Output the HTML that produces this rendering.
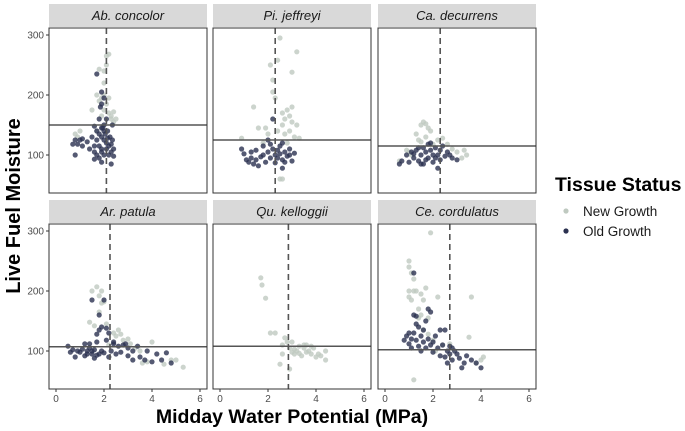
<!DOCTYPE html>
<html><head><meta charset="utf-8"><style>
body{margin:0;background:#fff}
svg{display:block;font-family:"Liberation Sans",sans-serif}
</style></head><body>
<svg id="c" width="685" height="431"></svg>
<script>
const panelNames=["Ab. concolor","Pi. jeffreyi","Ca. decurrens","Ar. patula","Qu. kelloggii","Ce. cordulatus"];
const hlineVals=[150,125,115,107,108,102];
const vlineVals=[2.1,2.3,2.3,2.25,2.85,2.7];
const xTicks=[0,2,4,6];
const yTicks=[100,200,300];
const newGrowth=[
[[0.8,135],[0.9,130],[1.0,140],[1.5,175],[1.7,140],[1.8,190],[1.9,195],[2.0,240],[2.0,200],[1.8,243],[2.1,265],[2.2,268],[2.1,250],[2.0,220],[2.2,170],[2.3,165],[2.4,172],[2.5,160],[2.1,185],[1.9,165],[2.3,160],[2.2,195],[1.7,200],[2.0,175],[2.4,155]],
[[0.9,128],[1.4,180],[1.6,145],[1.9,145],[2.0,135],[2.1,250],[2.2,205],[2.2,225],[2.3,195],[2.4,258],[2.5,295],[2.6,170],[2.6,150],[2.7,160],[2.8,175],[2.9,140],[3.0,155],[3.1,130],[3.2,150],[3.3,128],[3.0,238],[3.2,272],[2.7,135],[2.8,120],[2.4,140],[2.5,60],[2.6,60],[1.8,120],[3.0,180],[2.9,165]],
[[0.6,90],[0.9,108],[1.0,105],[1.3,135],[1.5,150],[1.6,155],[1.7,152],[1.8,145],[1.9,140],[1.5,122],[1.7,130],[1.4,125],[2.2,125],[2.4,128],[2.6,118],[3.0,105],[3.3,108],[3.4,100],[3.2,95],[1.1,100],[2.0,118],[2.8,110]],
[[1.4,148],[1.5,200],[1.6,142],[1.7,207],[1.8,192],[1.9,200],[1.8,165],[2.0,182],[2.1,145],[2.4,130],[2.5,125],[2.6,135],[2.7,128],[2.8,118],[3.0,120],[3.1,112],[3.3,105],[3.5,100],[3.6,80],[3.8,82],[4.0,115],[4.5,78],[4.8,85],[5.0,85],[5.3,73],[1.9,180],[2.2,110]],
[[1.7,222],[1.75,210],[1.9,188],[2.1,130],[2.3,130],[2.5,78],[2.6,95],[2.7,122],[2.8,115],[2.9,70],[2.9,105],[3.0,98],[3.0,115],[3.1,95],[3.2,100],[3.3,108],[3.4,92],[3.5,105],[3.6,98],[3.6,110],[3.7,100],[3.8,95],[3.9,105],[4.0,90],[4.1,95],[4.2,92],[4.4,100],[4.4,85],[3.3,96],[3.5,110],[3.8,108],[3.1,103],[2.6,110]],
[[1.0,250],[1.0,240],[1.1,230],[1.2,220],[1.0,200],[1.0,190],[1.2,200],[1.3,200],[1.5,195],[1.7,205],[1.6,185],[1.4,170],[1.5,160],[1.8,155],[2.2,190],[1.9,297],[1.1,185],[1.4,155],[1.8,128],[2.0,118],[2.4,110],[2.7,112],[3.5,123],[3.6,190],[3.8,80],[4.0,85],[4.1,90],[1.2,52],[1.6,135],[2.1,100]]
];
const oldGrowth=[
[[0.8,100],[0.7,118],[0.8,125],[0.9,118],[1.0,125],[1.1,115],[1.1,127],[1.3,122],[1.4,110],[1.5,130],[1.6,115],[1.6,105],[1.7,140],[1.7,125],[1.7,100],[1.8,135],[1.8,115],[1.8,95],[1.8,160],[1.9,145],[1.9,130],[1.9,110],[1.9,105],[1.9,185],[1.85,180],[2.0,140],[2.0,125],[2.0,100],[1.9,88],[1.9,205],[2.0,150],[2.05,135],[2.1,120],[2.1,110],[2.0,195],[2.15,140],[2.15,128],[2.2,115],[2.2,100],[2.25,130],[2.3,118],[2.3,105],[2.35,150],[2.35,125],[2.4,110],[2.4,98],[2.3,85],[1.6,93],[1.7,235],[2.1,160],[1.6,148],[1.95,145]],
[[0.9,110],[1.0,102],[1.1,92],[1.2,88],[1.3,95],[1.4,85],[1.5,92],[1.6,82],[1.7,97],[1.8,100],[1.9,88],[2.0,105],[2.1,95],[2.1,118],[2.2,110],[2.3,100],[2.3,87],[2.4,108],[2.4,95],[2.5,115],[2.5,102],[2.6,92],[2.6,120],[2.7,105],[2.8,98],[2.9,110],[3.0,90],[3.1,103],[2.0,125],[1.5,108],[1.8,115],[2.6,78],[2.2,160],[2.9,100],[1.3,105],[2.7,88]],
[[0.6,85],[0.7,90],[0.9,100],[1.0,88],[1.1,105],[1.2,95],[1.3,108],[1.4,90],[1.5,100],[1.6,112],[1.6,85],[1.7,105],[1.8,95],[1.8,118],[1.9,108],[2.0,100],[2.0,88],[2.1,112],[2.2,100],[2.3,108],[2.3,92],[2.4,115],[2.5,98],[2.6,105],[2.8,95],[3.0,92],[1.4,112],[1.2,102],[2.2,78],[1.5,85],[1.9,120],[2.7,100],[1.7,92],[2.1,95]],
[[0.5,108],[0.6,98],[0.7,102],[0.8,90],[0.9,100],[1.0,98],[1.1,103],[1.2,92],[1.2,112],[1.3,100],[1.4,105],[1.4,112],[1.5,95],[1.5,100],[1.5,185],[1.6,88],[1.6,102],[1.7,115],[1.7,128],[1.8,95],[1.8,135],[1.8,160],[1.9,100],[1.9,140],[2.0,97],[2.0,185],[2.1,118],[2.1,138],[2.2,90],[2.2,130],[2.3,100],[2.4,112],[2.5,95],[2.6,108],[2.7,98],[2.8,110],[3.0,92],[3.0,105],[3.2,85],[3.2,100],[3.4,108],[3.5,90],[3.7,85],[3.8,100],[4.0,82],[4.2,95],[4.4,85],[4.6,97],[4.8,80],[2.4,115],[1.3,95],[2.9,112],[1.7,93]],
[],
[[0.8,118],[0.9,125],[1.0,112],[1.0,130],[1.1,105],[1.1,120],[1.2,160],[1.2,230],[1.3,158],[1.3,118],[1.4,108],[1.4,140],[1.5,125],[1.5,100],[1.6,115],[1.6,135],[1.7,150],[1.7,105],[1.8,170],[1.8,120],[1.9,165],[1.9,110],[2.0,98],[2.1,125],[2.2,105],[2.3,135],[2.3,92],[2.4,110],[2.5,90],[2.5,135],[2.6,100],[2.6,80],[2.7,95],[2.8,105],[2.8,85],[2.9,100],[3.0,95],[3.1,88],[3.2,72],[3.3,80],[3.4,92],[3.6,85],[3.8,80],[4.0,72],[1.3,145],[2.0,115],[2.7,108],[1.2,130]]
];
const NS="http://www.w3.org/2000/svg",svg=document.getElementById('c');
function mk(t,a,p){const e=document.createElementNS(NS,t);for(const k in a)e.setAttribute(k,a[k]);(p||svg).appendChild(e);return e;}
const colX=[49,213,378],rowY=[28,224],PW=158,PH=165;
for(let i=0;i<6;i++){
 const c=i%3,r=Math.floor(i/3),x0=colX[c],y0=rowY[r];
 const sx=v=>x0+7+v*24, sy=v=>y0+7+(300-v)*0.6;
 const g=mk('g',{});
 
 
 const st=mk('rect',{x:x0,y:y0-24,width:PW,height:23,fill:'#d9d9d9'},g);
 
 
 const tt=mk('text',{x:x0+PW/2,y:y0-8,'text-anchor':'middle','font-size':13,'font-style':'italic',fill:'#1a1a1a'},g);tt.textContent=panelNames[i];
 
 
 mk('rect',{x:x0,y:y0,width:PW,height:PH,fill:'#fff'},g);
 for(const p of newGrowth[i]){const d=mk('circle',{cx:sx(p[0]),cy:sy(p[1]),r:2.6,fill:'#bfc9c0','fill-opacity':0.8},g);
  
  }
 for(const p of oldGrowth[i]){const d=mk('circle',{cx:sx(p[0]),cy:sy(p[1]),r:2.6,fill:'#2b3150','fill-opacity':0.8},g);
  
  }
 const hl=mk('line',{x1:x0,x2:x0+PW,y1:sy(hlineVals[i]),y2:sy(hlineVals[i]),stroke:'#555','stroke-width':1.5},g);
 
 
 const vl=mk('line',{x1:sx(vlineVals[i]),x2:sx(vlineVals[i]),y1:y0,y2:y0+PH,stroke:'#555','stroke-width':1.6,'stroke-dasharray':'6,4'},g);
 
 
 mk('rect',{x:x0,y:y0,width:PW,height:PH,fill:'none',stroke:'#333','stroke-width':1},g);
 if(c==0){for(const t of yTicks){mk('line',{x1:x0-3,x2:x0,y1:sy(t),y2:sy(t),stroke:'#333'},g);
  const l=mk('text',{x:x0-5,y:sy(t)+3.5,'text-anchor':'end','font-size':10,fill:'#4d4d4d'},g);l.textContent=t;
  
  }}
 if(r==1){for(const t of xTicks){mk('line',{x1:sx(t),x2:sx(t),y1:y0+PH,y2:y0+PH+3,stroke:'#333'},g);
  const l=mk('text',{x:sx(t),y:y0+PH+13,'text-anchor':'middle','font-size':10,fill:'#4d4d4d'},g);l.textContent=t;
  
  }}
}
const xt=mk('text',{x:292,y:423,'text-anchor':'middle','font-size':19.5,'font-weight':'bold',fill:'#000'});xt.textContent='Midday Water Potential (MPa)';


const yt=mk('text',{x:0,y:0,'text-anchor':'middle','font-size':20,'font-weight':'bold',fill:'#000',transform:'translate(20,206) rotate(-90)'});yt.textContent='Live Fuel Moisture';


const lt=mk('text',{x:555,y:191,'font-size':19.5,'font-weight':'bold',fill:'#000'});lt.textContent='Tissue Status';


[['New Growth','#bfc9c0',211],['Old Growth','#2b3150',231]].forEach(([n,col,y])=>{
 const g=mk('g',{});
 
 
 mk('circle',{cx:566,cy:y,r:2.6,fill:col},g);
 const t=mk('text',{x:583,y:y+5,'font-size':13.5,fill:'#1a1a1a'},g);t.textContent=n;
});
</script>
</body></html>
